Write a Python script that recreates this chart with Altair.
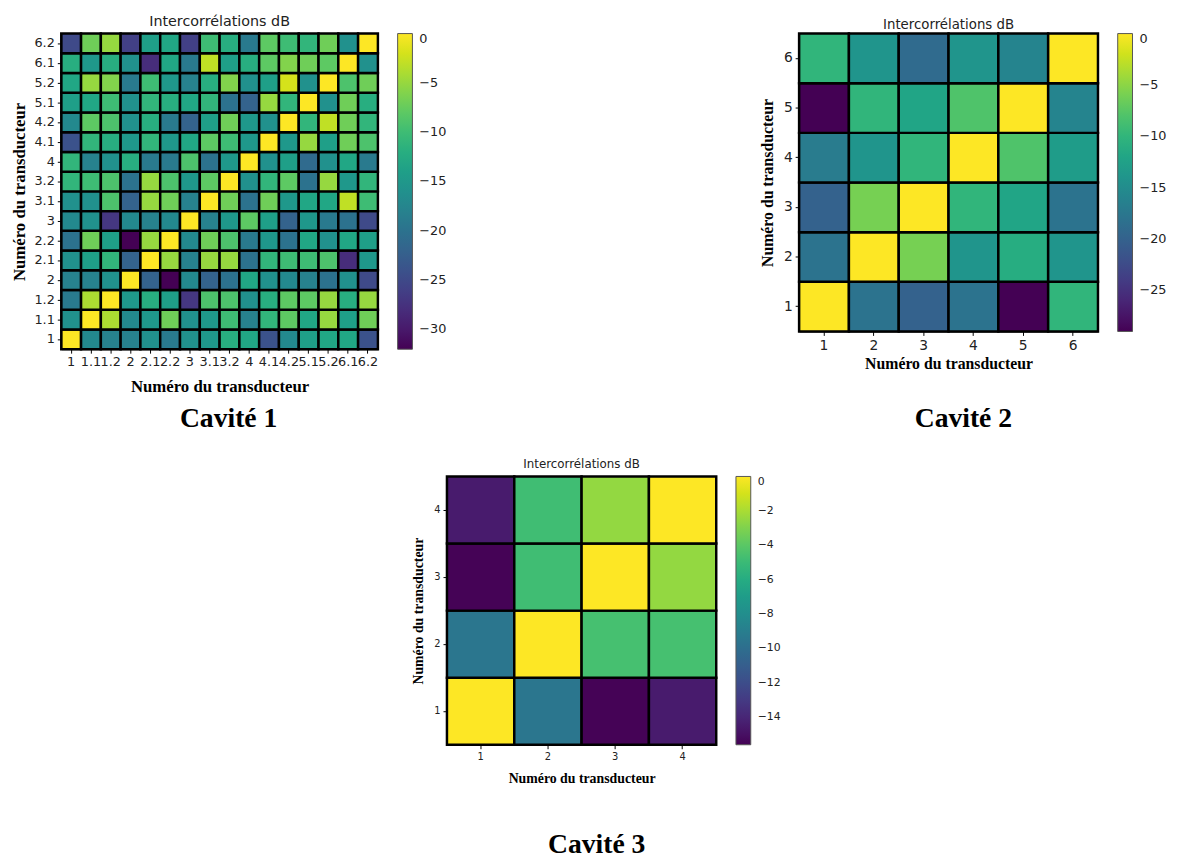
import altair as alt
import pandas as pd

# ---------------- Cavité 1 ----------------
c1_labels = ["1", "1.1", "1.2", "2", "2.1", "2.2", "3", "3.1", "3.2",
             "4", "4.1", "4.2", "5.1", "5.2", "6.1", "6.2"]
# one list per row, from row "1" (bottom) to row "6.2" (top), columns in c1_labels order
c1_r1 = [0, -17, -18, -18, -16, -19, -16, -15, -12, -13, -24, -17, -14, -13, -13, -24]
c1_r11 = [-16, 0, -4, -17, -15, -7, -16, -15, -10, -18, -11, -8, -13, -5, -14, -7]
c1_r12 = [-19, -4, 0, -15, -12, -14, -27, -9, -9, -16, -12, -8, -8, -5, -12, -5]
c1_r2 = [-18, -18, -16, 0, -22, -32, -17, -22, -20, -13, -16, -17, -18, -20, -16, -25]
c1_r21 = [-16, -14, -11, -22, 0, -5, -18, -5, -5, -20, -11, -10, -10, -9, -28, -15]
c1_r22 = [-20, -7, -14, -32, -5, 0, -17, -7, -9, -19, -15, -20, -13, -16, -13, -14]
c1_r3 = [-17, -16, -27, -17, -18, -17, 0, -18, -15, -8, -14, -22, -15, -19, -20, -25]
c1_r31 = [-16, -16, -9, -22, -5, -7, -18, 0, -7, -20, -7, -15, -13, -13, -3, -10]
c1_r32 = [-11, -10, -9, -20, -5, -9, -15, -8, 0, -16, -11, -8, -20, -5, -15, -11]
c1_r4 = [-11, -18, -16, -12, -19, -19, -9, -20, -15, 0, -16, -14, -21, -16, -13, -19]
c1_r41 = [-24, -11, -12, -15, -11, -15, -13, -8, -10, -15, 0, -15, -5, -14, -7, -9]
c1_r42 = [-17, -8, -9, -16, -12, -19, -22, -14, -7, -15, -16, 0, -11, -3, -7, -11]
c1_r51 = [-14, -13, -10, -16, -11, -12, -13, -11, -20, -22, -5, -11, 0, -16, -7, -12]
c1_r52 = [-13, -5, -6, -19, -10, -15, -18, -12, -6, -16, -14, -2, -16, 0, -9, -7]
c1_r61 = [-12, -15, -12, -16, -28, -13, -19, -3, -14, -12, -8, -6, -7, -8, 0, -16]
c1_r62 = [-25, -7, -5, -26, -14, -13, -26, -10, -12, -19, -8, -10, -11, -7, -16, 0]
c1_values = [c1_r1, c1_r11, c1_r12, c1_r2, c1_r21, c1_r22, c1_r3, c1_r31, c1_r32,
             c1_r4, c1_r41, c1_r42, c1_r51, c1_r52, c1_r61, c1_r62]
c1_ticks = [0, -5, -10, -15, -20, -25, -30]

# ---------------- Cavité 2 ----------------
c2_labels = ["1", "2", "3", "4", "5", "6"]
c2_r1 = [0, -18, -20, -18, -29, -10]
c2_r2 = [-18, 0, -6, -14, -11, -14]
c2_r3 = [-20, -6, 0, -10, -12, -18]
c2_r4 = [-17, -14, -10, 0, -8, -13]
c2_r5 = [-29, -10, -12, -8, 0, -16]
c2_r6 = [-10, -14, -19, -14, -16, 0]
c2_values = [c2_r1, c2_r2, c2_r3, c2_r4, c2_r5, c2_r6]
c2_ticks = [0, -5, -10, -15, -20, -25]

# ---------------- Cavité 3 ----------------
c3_labels = ["1", "2", "3", "4"]
c3_r1 = [0, -9.5, -15.5, -14.5]
c3_r2 = [-9.5, 0, -4.6, -4.6]
c3_r3 = [-15.5, -4.8, 0, -2.5]
c3_r4 = [-14.5, -4.8, -2.5, 0]
c3_values = [c3_r1, c3_r2, c3_r3, c3_r4]
c3_ticks = [0, -2, -4, -6, -8, -10, -12, -14]

SERIF = "Liberation Serif"
SANS = "DejaVu Sans"


def panel(labels, values, vmin, ticks, w, h, lab_fs, leg_fs, ttl_fs, ttl_off, ax_fs,
          xtp, ytp, cav, cav_offset):
    rows = []
    for i, r in enumerate(labels):
        for j, c in enumerate(labels):
            rows.append({"row": r, "col": c, "v": values[i][j]})
    df = pd.DataFrame(rows)
    axis_common = dict(labelAngle=0, labelFont=SANS, labelFontSize=lab_fs, labelColor="#222",
                       titleFont=SERIF, titleFontWeight="bold", titleFontSize=ax_fs,
                       titleColor="black", domainColor="black", tickColor="black",
                       tickSize=4, labelOverlap=False, labelPadding=3)
    heat = alt.Chart(df).mark_rect(stroke="black", strokeWidth=2.5).encode(
        x=alt.X("col:O", sort=labels, title="Numéro du transducteur",
                scale=alt.Scale(paddingInner=0, paddingOuter=0),
                axis=alt.Axis(titlePadding=xtp, **axis_common)),
        y=alt.Y("row:O", sort=labels[::-1], title="Numéro du transducteur",
                scale=alt.Scale(paddingInner=0, paddingOuter=0),
                axis=alt.Axis(titlePadding=ytp, **axis_common)),
        color=alt.Color("v:Q", title=None,
                        scale=alt.Scale(scheme="viridis", domain=[vmin, 0]),
                        legend=alt.Legend(type="gradient", direction="vertical",
                                          gradientLength=h, gradientThickness=15,
                                          values=ticks, labelFont=SANS,
                                          labelFontSize=leg_fs, labelColor="#222",
                                          labelOffset=7,
                                          gradientStrokeColor="#555", gradientStrokeWidth=1,
                                          offset=20, padding=0, labelOverlap=False)),
    ).properties(
        width=w, height=h,
        title=alt.TitleParams("Intercorrélations dB", font=SANS, fontSize=ttl_fs,
                              fontWeight="normal", color="#222", anchor="middle",
                              offset=ttl_off),
    )
    return alt.vconcat(heat).properties(
        title=alt.TitleParams(cav, orient="bottom", font=SERIF, fontSize=28,
                              fontWeight="bold", color="black", anchor="middle",
                              offset=cav_offset)
    ).resolve_scale(color="independent")


p1 = panel(c1_labels, c1_values, -32, c1_ticks, 321, 320, 13, 13, 14.5, 3, 17,
           10, 6, "Cavité 1", 11)
p2 = panel(c2_labels, c2_values, -29, c2_ticks, 303, 302, 14, 13, 13.5, 1, 16,
           4, 8, "Cavité 2", 34)
p3 = panel(c3_labels, c3_values, -15.6, c3_ticks, 273, 272, 10, 11, 12, 4, 14,
           10, 8, "Cavité 3", 47)

top = alt.hconcat(p1, p2, spacing=317).resolve_scale(color="independent")
chart = alt.vconcat(top, p3, spacing=25, center=True).resolve_scale(
    color="independent"
).configure_view(strokeWidth=0).properties(
    padding={"left": 2, "top": 0, "right": 2, "bottom": 2}
)

chart.save("out.html", embed_options={"renderer": "svg", "actions": False})
